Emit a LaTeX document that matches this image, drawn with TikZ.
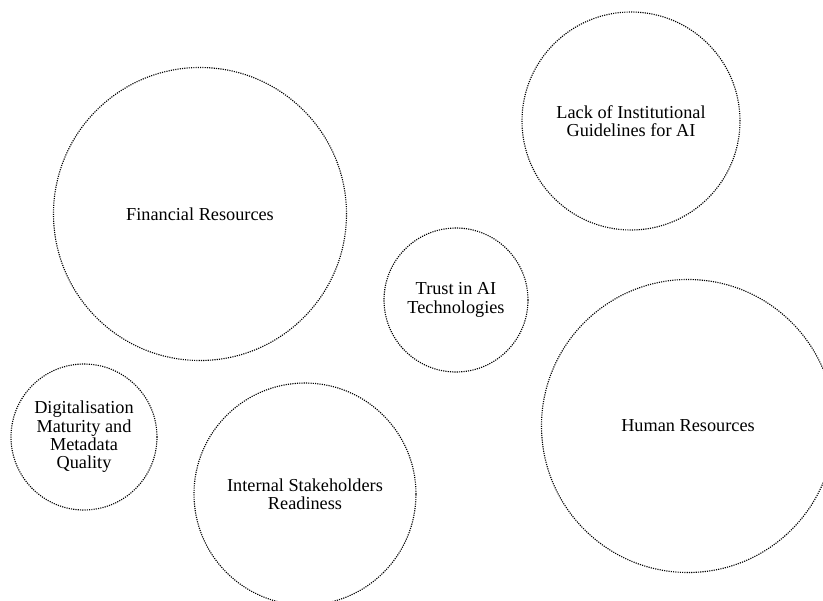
\documentclass[tikz,border=0pt]{standalone}
\usepackage{fontspec}
\setmainfont{Liberation Serif}
\begin{document}
\begin{tikzpicture}[x=0.75pt,y=-0.75pt]
\tikzset{bulle/.style={draw, circle, inner sep=0pt, line width=0.85pt,
  dash pattern=on 0.85pt off 0.85pt, align=center, font=\fontsize{13.7}{13.8}\selectfont}}
\useasboundingbox (0,0) rectangle (823,600);
\clip (0,0) rectangle (823,600);
\node[bulle, minimum size=219.75pt] (F) at (200,214) {Financial Resources};
\node[bulle, minimum size=163.5pt] (L) at (631,121) {Lack of Institutional\\Guidelines for AI};
\node[bulle, minimum size=108pt] (T) at (456,300) {Trust in AI\\Technologies};
\node[bulle, minimum size=219.75pt] (H) at (688,426) {Human Resources};
\node[bulle, minimum size=109.5pt] (D) at (84,437) {Digitalisation\\Maturity and\\Metadata\\Quality};
\node[bulle, minimum size=166.5pt] (I) at (305,494) {Internal Stakeholders\\Readiness};
\end{tikzpicture}
\end{document}
